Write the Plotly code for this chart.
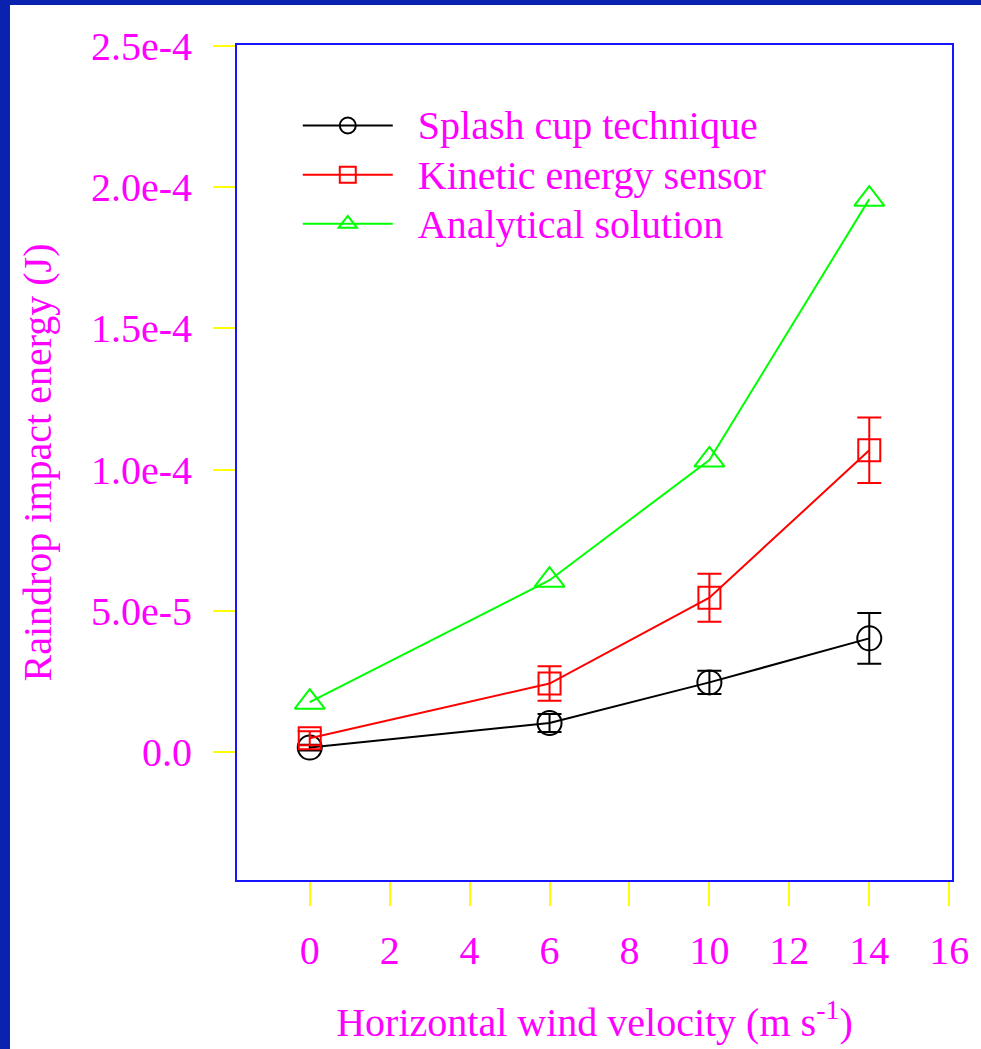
import plotly.graph_objects as go

# ---- data ----
wind = [0, 6, 10, 14]
splash = [1.5e-6, 1.02e-5, 2.46e-5, 4.02e-5]
splash_err = [1.0e-6, 3.2e-6, 4.1e-6, 9.0e-6]
kinetic = [4.8e-6, 2.42e-5, 5.46e-5, 1.068e-4]
kinetic_err = [2.5e-6, 6.1e-6, 8.5e-6, 1.16e-5]
analytical = [1.76e-5, 6.08e-5, 1.034e-4, 1.958e-4]

series_names = ["Splash cup technique", "Kinetic energy sensor", "Analytical solution"]
x_ticks = [0, 2, 4, 6, 8, 10, 12, 14, 16]
y_ticks = [0.0, 5.0e-5, 1.0e-4, 1.5e-4, 2.0e-4, 2.5e-4]
y_ticktext = ["0.0", "5.0e-5", "1.0e-4", "1.5e-4", "2.0e-4", "2.5e-4"]

ML, MR, MT, MB = 237, 24, 45, 146

FONT = "Liberation Serif, Times New Roman, serif"
MAG = "#FF00FF"


def legend_label(s):
    return '<span style="font-size:40px">\u00a0\u00a0' + s + "</span>"


fig = go.Figure()
fig.add_trace(go.Scatter(
    x=wind, y=splash, name=legend_label(series_names[0]), mode="lines+markers",
    line=dict(color="black", width=2),
    marker=dict(symbol="circle-open", size=24, color="black", line=dict(width=2)),
    error_y=dict(type="data", array=splash_err, color="black", thickness=2, width=12),
))
fig.add_trace(go.Scatter(
    x=wind, y=kinetic, name=legend_label(series_names[1]), mode="lines+markers",
    line=dict(color="red", width=2),
    marker=dict(symbol="square-open", size=22, color="red", line=dict(width=2)),
    error_y=dict(type="data", array=kinetic_err, color="red", thickness=2, width=12),
))
fig.add_trace(go.Scatter(
    x=wind, y=analytical, name=legend_label(series_names[2]), mode="lines+markers",
    line=dict(color="#00FF00", width=2),
    marker=dict(symbol="triangle-up-open", size=26, color="#00FF00", line=dict(width=2)),
))

# dark blue frame strips (left and top), sized in pixels from the plot-area corner
frame = "#0B22AE"
fig.add_shape(type="rect", xref="paper", yref="paper",
              xsizemode="pixel", xanchor=0, x0=-ML, x1=-ML + 10,
              ysizemode="pixel", yanchor=1, y0=-3000, y1=MT,
              fillcolor=frame, line=dict(width=0), layer="above")
fig.add_shape(type="rect", xref="paper", yref="paper",
              xsizemode="pixel", xanchor=0, x0=-ML, x1=3000,
              ysizemode="pixel", yanchor=1, y0=MT - 5, y1=MT,
              fillcolor=frame, line=dict(width=0), layer="above")

fig.update_layout(
    autosize=True,
    margin=dict(l=ML, r=MR, t=MT, b=MB, pad=0),
    paper_bgcolor="white", plot_bgcolor="white",
    font=dict(family=FONT, color=MAG, size=40),
    showlegend=True,
    legend=dict(x=0.085, y=0.939, xanchor="left", yanchor="top",
                bgcolor="rgba(0,0,0,0)", font=dict(size=35.5, color=MAG, family=FONT),
                itemwidth=90, itemsizing="trace", tracegroupgap=0),
    xaxis=dict(
        range=[-1.82, 16.07], tickvals=x_ticks, ticks="outside", ticklen=24,
        tickcolor="#FFFF00", tickwidth=1.5, showgrid=False, zeroline=False,
        showline=True, linecolor="#1515FF", linewidth=2, mirror=True,
        tickfont=dict(size=40, color=MAG, family=FONT), ticklabelstandoff=10,
        title=dict(text="Horizontal wind velocity (m s<sup>-1</sup>)",
                   font=dict(size=40, color=MAG, family=FONT), standoff=36),
    ),
    yaxis=dict(
        range=[-4.54e-5, 2.504e-4], tickvals=y_ticks, ticktext=y_ticktext,
        ticks="outside", ticklen=22, tickcolor="#FFFF00", tickwidth=1.5,
        showgrid=False, zeroline=False,
        showline=True, linecolor="#1515FF", linewidth=2, mirror=True,
        tickfont=dict(size=40, color=MAG, family=FONT), ticklabelstandoff=13,
        title=dict(text="Raindrop impact energy (J)",
                   font=dict(size=40, color=MAG, family=FONT), standoff=27),
    ),
)

post = (
    "document.documentElement.style.margin='0';"
    "document.documentElement.style.overflow='hidden';"
    "document.body.style.margin='0';"
    "document.body.style.overflow='hidden';"
    "var gd=document.getElementById('{plot_id}');"
    "gd.style.position='fixed';gd.style.left='0px';gd.style.top='0px';"
    "gd.style.width='100vw';gd.style.height='100vh';"
    "Plotly.Plots.resize(gd);"
)

fig.write_html(
    "out.html",
    config={"displayModeBar": False, "responsive": True},
    default_width="100vw", default_height="100vh",
    post_script=post,
)
